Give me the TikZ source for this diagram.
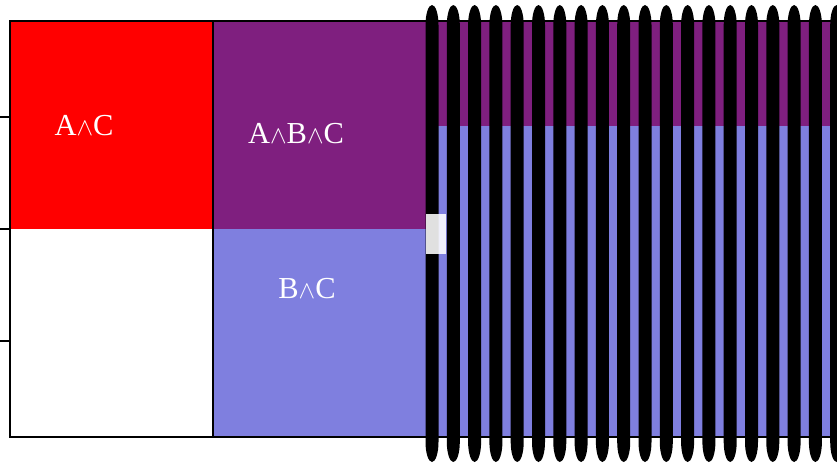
\documentclass[tikz,border=0pt]{standalone}
\usepackage{fontspec}
\setmainfont{Liberation Serif}
\definecolor{cellred}{RGB}{255,0,0}
\definecolor{cellpurple}{RGB}{127,31,127}
\definecolor{cellblue}{RGB}{127,127,223}
% small logical-and sign set between the capitals
\newcommand{\andsign}{{\fontsize{31}{31}\selectfont$\wedge$}}
\begin{document}
\begin{tikzpicture}[x=1pt,y=-1pt,
  celltext/.style={text=white,font=\fontsize{30.5}{31}\selectfont,inner sep=0pt},
  tooth/.style={fill=black},
  frameline/.style={line width=2.2pt,draw=black}]
\useasboundingbox (0,0) rectangle (837,463);
% coloured cells
\fill[cellred] (10,21) rectangle (213,229);
\fill[cellpurple] (213,21) rectangle (432,229);
\fill[cellblue] (213,229) rectangle (432,437);
\fill[cellpurple] (432,21) rectangle (845,126);
\fill[cellblue] (432,126) rectangle (845,437);
% frame and divider
\draw[frameline] (845,21) -- (10,21) -- (10,437) -- (845,437);
\draw[frameline] (213,21) -- (213,437);
% ticks on the left edge
\foreach \y in {117,229,341}
  \draw[line width=1.5pt] (0,\y) -- (10,\y);
% row of tall black bars with elliptic caps
\foreach \i in {0,...,19}
  \fill[tooth] (432+21.3*\i-6.5,25) arc [start angle=180, end angle=360, x radius=6.5, y radius=20]
    -- (432+21.3*\i+6.5,442) arc [start angle=0, end angle=180, x radius=6.5, y radius=20] -- cycle;
% translucent patch
\fill[white,opacity=0.88] (426,214) rectangle (446,254);
% labels
\node[celltext] (ac) at (84,126) {A\andsign C};
\node[celltext] (abc) at (296,133.5) {A\andsign B\andsign C};
\node[celltext] (bc) at (307,289) {B\andsign C};
\end{tikzpicture}
\end{document}
